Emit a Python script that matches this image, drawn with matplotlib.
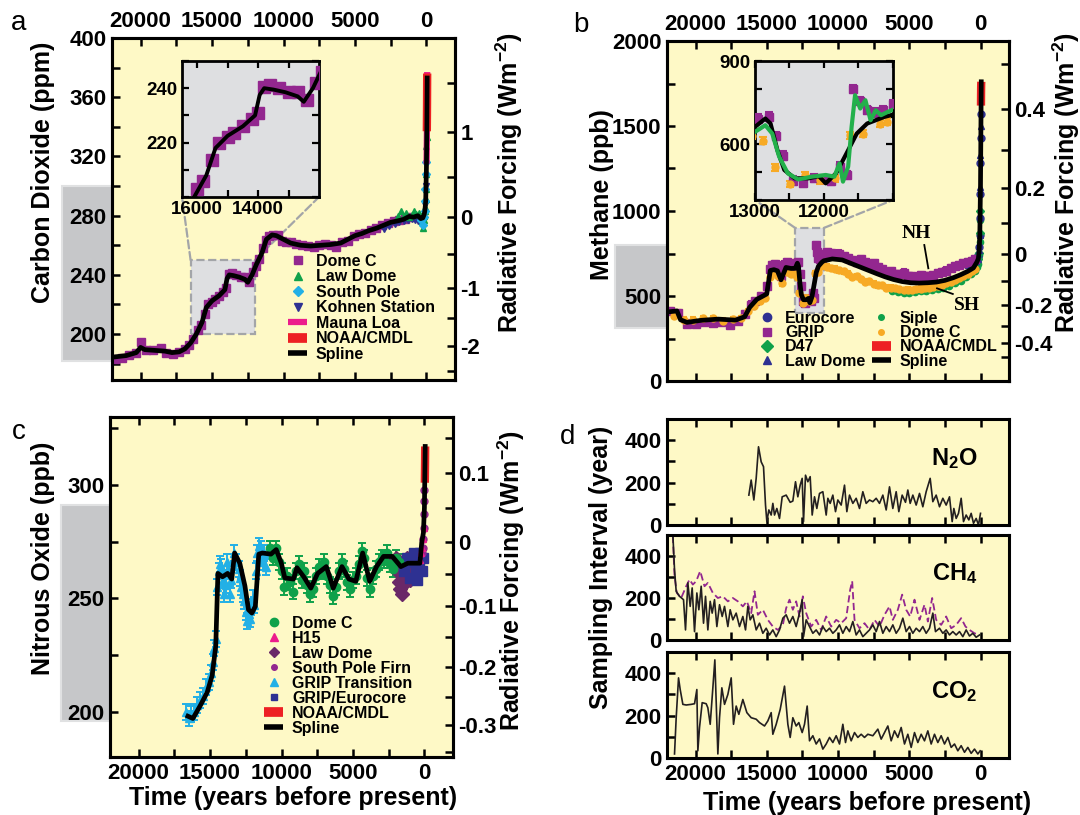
import numpy as np
import matplotlib
matplotlib.use('Agg')
import matplotlib.pyplot as plt
from matplotlib.patches import Rectangle, ConnectionPatch
from matplotlib.lines import Line2D
from matplotlib.transforms import blended_transform_factory

plt.rcParams['font.family'] = ['Liberation Sans', 'DejaVu Sans']
plt.rcParams['font.weight'] = 'bold'
plt.rcParams['mathtext.fontset'] = 'custom'
plt.rcParams['mathtext.rm'] = 'Liberation Sans:bold'
plt.rcParams['mathtext.it'] = 'Liberation Sans:bold'
plt.rcParams['mathtext.bf'] = 'Liberation Sans:bold'
plt.rcParams['axes.unicode_minus'] = False

# ---------------- colours ----------------
YELLOW = '#FEF9C6'
INSET_GRAY = '#DEDFE1'
BAND_GRAY = '#C6C7C9'
DASH_GRAY = '#A3A5A8'
PURPLE = '#93278F'
GREEN = '#0FA14A'
CYAN = '#22B0E6'
NAVY = '#2E3192'
MAGENTA = '#EC1C8C'
RED = '#ED2024'
ORANGE = '#F7AA25'
PLUM = '#6A2868'

# ---------------- panel a : CO2 (years BP, ppm) ----------------
co2_spline_yr = [21900, 21000, 20300, 20000, 19700, 19000, 18300, 17800, 17300, 16900,
                 16500, 16100, 15700, 15400, 15000, 14500, 14100, 13950, 13800, 13500,
                 13100, 12700, 12500, 12200, 11900, 11500, 11200, 10800, 10500, 10100,
                 9500, 8800, 8100, 7400, 6700, 6000, 5500, 5000, 4500, 4000,
                 3500, 3000, 2500, 2000, 1600, 1200, 900, 600, 400, 250,
                 150, 100, 50, 0, -30, -54]
co2_spline = [184.5, 185.5, 187.5, 191, 189.5, 189, 188.5, 187.5, 188, 190,
              194, 200, 208, 218, 222.5, 226, 230, 237.5, 240, 239.5,
              238.5, 237, 235, 240, 247, 255, 264, 267, 266.5, 264.5,
              261.5, 260, 259.5, 260, 260.5, 261.5, 264, 266.5, 268, 270,
              271.5, 273.5, 275.5, 276.5, 277.5, 279.5, 279, 280, 278, 278.5,
              281, 284, 290, 312, 338, 373]

domec_co2_yr = [21800, 21300, 20800, 20300, 20000, 19600, 19100, 18600, 18200, 17700,
                17300, 16900, 16600, 16300, 16000, 15800, 15500, 15300, 15000, 14800,
                14500, 14200, 14000, 13800, 13600, 13300, 13000, 12700, 12400, 12100,
                11900, 11700, 11400, 11200, 11000, 10700, 10400, 10100, 9800, 9500,
                9100, 8700, 8300, 7900, 7500, 7100, 6700, 6300, 5900, 5500,
                5100, 4700, 4300, 3900, 3500, 3100, 2700, 2300, 1900, 1500,
                1100]
domec_co2 = [183.5, 184, 186, 187, 194.5, 189, 189.5, 190.5, 187.5, 186.5,
             188, 190, 192.5, 197, 203, 206, 213.5, 220, 222, 223.5,
             226, 228.5, 231, 240.5, 241, 240, 238.5, 238.5, 235.5, 242,
             246, 251, 258, 263.5, 266.5, 267, 267, 263, 262, 262.5,
             261, 260, 259.5, 259, 260, 261, 260, 258.5, 262.5, 263,
             266, 267.5, 268.5, 270.5, 271.5, 273.5, 275, 276.5, 277, 277.5,
             279]

lawdome_co2_yr = [2000, 1800, 1600, 1400, 1200, 1000, 850, 700, 550, 400, 300,
                  250, 200, 150, 110, 80, 60, 40, 25, 10, -5, -20]
lawdome_co2 = [279.5, 283, 280, 282, 279, 280.5, 283, 281, 282, 280, 276,
               272, 277, 280, 283, 286, 291, 298, 308, 318, 327, 333]

southpole_co2_yr = [350, 250, 180, 120, 90, 65, 45, 30]
southpole_co2 = [277, 274, 279, 283, 290, 298, 308, 316]

kohnen_co2_yr = [3000, 2600, 2200, 1900, 1600, 1300, 1000, 800, 600, 450, 300, 200, 130, 80, 40]
kohnen_co2 = [271, 273, 274.5, 276, 276.5, 277, 277.5, 277, 276.5, 275.5, 275, 277, 281, 287, 300]

maunaloa_yr = [-8, -18, -28, -38, -48, -54]
maunaloa_co2 = [315, 321, 331, 343, 361, 377]

noaa_co2_yr = [-29, -34, -39, -44, -49, -54]
noaa_co2 = [337, 343, 349, 356, 366, 376]

# ---------------- panel b : CH4 (years BP, ppb) ----------------
ch4_spline_yr = [22000, 21300, 21050, 20600, 19600, 18400, 17200, 16550, 16200, 15700,
                 15000, 14750, 14500, 14250, 14000, 13650, 13300, 13000, 12850, 12775,
                 12675, 12575, 12425, 12225, 12075, 11975, 11825, 11675, 11525, 11375,
                 11125, 11000, 10400, 9700, 9100, 8500, 7900, 7300, 6700, 6100,
                 5500, 4900, 4300, 3700, 3100, 2500, 1900, 1400, 900, 500,
                 250, 150, 100, 50, 0, -25, -54]
ch4_spline = [406, 412, 360, 345, 357, 364, 358, 378, 433, 480,
              512, 650, 655, 648, 595, 668, 662, 663, 693, 675,
              579, 508, 478, 478, 486, 460, 496, 567, 639, 675,
              699, 707, 718, 712, 692, 672, 652, 632, 613, 597,
              585, 578, 576, 578, 582, 592, 608, 625, 645, 665,
              700, 720, 760, 850, 1150, 1450, 1760]

# second (green) spline shown only in the inset
ch4_green_yr = [13000, 12850, 12750, 12650, 12525, 12375, 12175, 11975, 11850, 11775,
                11725, 11650, 11600, 11550, 11475, 11400, 11325, 11250, 11175, 11075, 11000]
ch4_green = [645, 669, 639, 556, 496, 474, 484, 490, 484, 532,
             466, 520, 663, 777, 729, 759, 687, 723, 705, 717, 725]

grip_ch4_yr = [21800, 21200, 20600, 20000, 19400, 18800, 18200, 17600, 17000, 16500,
               16100, 15800, 15400, 15000, 14800, 14600, 14400, 14200, 14000, 13800,
               13600, 13400, 13200, 12950, 12800, 12700, 12600, 12450, 12300, 12150,
               12000, 11900, 11770, 11670, 11575, 11480, 11380, 11260, 11140, 11000,
               10800, 10500, 10200, 9900, 9600, 9300, 9000, 8700, 8400, 8100,
               7800, 7500, 7200, 6900, 6600, 6300, 6000, 5700, 5400, 5100,
               4800, 4500, 4200, 3900, 3600, 3300, 3000, 2700, 2400, 2100,
               1800, 1500, 1200, 900, 600, 400]
grip_ch4 = [412, 400, 338, 335, 350, 342, 345, 330, 355, 395,
            450, 468, 500, 560, 660, 680, 690, 655, 615, 685,
            700, 690, 640, 693, 700, 630, 560, 470, 460, 480,
            475, 470, 520, 490, 800, 757, 724, 715, 724, 745,
            760, 755, 745, 750, 735, 725, 712, 700, 718, 698,
            682, 695, 668, 660, 642, 648, 628, 630, 638, 618,
            620, 612, 624, 616, 620, 626, 636, 642, 650, 662,
            674, 682, 692, 700, 708, 716]

domec_ch4_yr = [21500, 20800, 20200, 19500, 18800, 18100, 17400, 16800, 16300, 15900,
                15500, 15100, 14800, 14500, 14200, 13900, 13600, 13300, 13050, 12880,
                12710, 12490, 12280, 12060, 11840, 11620, 11430, 11190, 11080, 10800,
                10500, 10200, 9900, 9600, 9300, 9000, 8700, 8400, 8100, 7800,
                7500, 7200, 6900, 6600, 6300, 6000, 5700, 5400, 5100, 4800,
                4500, 4200, 3900, 3600, 3300, 3000, 2700, 2400, 2100, 1800,
                1500, 1200, 900, 600, 400]
domec_ch4 = [385, 360, 360, 370, 368, 355, 362, 370, 410, 440,
             470, 490, 610, 640, 620, 575, 640, 630, 630, 613,
             517, 457, 490, 471, 478, 633, 639, 675, 682, 672,
             665, 660, 652, 645, 632, 612, 618, 600, 585, 588,
             572, 562, 562, 550, 548, 545, 540, 535, 538, 536,
             540, 544, 547, 550, 554, 560, 566, 574, 584, 596,
             606, 618, 632, 648, 660]

siple_ch4_yr = [6200, 5800, 5400, 5000, 4600, 4200, 3800, 3400, 3000, 2600, 2200,
                1800, 1400, 1000, 700, 400, 250, 150, 100, 60, 30]
siple_ch4 = [530, 522, 518, 520, 524, 528, 532, 536, 542, 550, 560,
             574, 590, 610, 630, 650, 668, 690, 740, 820, 950]

eurocore_ch4_yr = [1000, 800, 600, 400, 300, 200, 150, 100, 70, 50, 30, 15, 0, -10]
eurocore_ch4 = [690, 696, 702, 708, 712, 722, 740, 790, 860, 960, 1100, 1280, 1430, 1570]

d47_ch4_yr = [400, 300, 200, 120, 70, 35]
d47_ch4 = [692, 702, 716, 755, 870, 1000]

lawdome_ch4_yr = [900, 700, 500, 300, 200, 120, 70, 45, 25, 5, -15]
lawdome_ch4 = [682, 690, 698, 706, 718, 770, 860, 970, 1140, 1330, 1500]

noaa_ch4_yr = [-33, -38, -43, -48, -54]
noaa_ch4 = [1620, 1680, 1720, 1745, 1760]

# ---------------- panel c : N2O (years BP, ppb) ----------------
n2o_spline_yr = [16550, 16200, 15700, 15200, 14850, 14600, 14450, 14130, 13770, 13480,
                 13280, 12920, 12560, 12310, 12070, 11830, 11590, 11340, 10740, 10370,
                 10010, 9770, 9160, 8920, 8440, 7950, 7470, 6860, 6380, 5770,
                 5280, 4800, 4320, 3830, 3350, 2860, 2250, 1650, 1160, 600,
                 315, 190, 70, 0, -30, -54]
n2o_spline = [198, 197, 202.5, 208.5, 216, 229, 261, 259.5, 261, 258.5,
              270, 265.5, 255.5, 245, 243.5, 246.5, 269.5, 270, 269.5, 271.5,
              265.5, 259, 258.5, 263.5, 259.5, 254.5, 261, 264, 254.5, 264,
              258.5, 257.5, 270, 257.5, 264, 268.5, 268.5, 264, 265.5, 265.5,
              265.5, 274.5, 279, 290, 305, 317]

griptrans_n2o_yr = [16700, 16500, 16300, 16100, 15900, 15700, 15500, 15300, 15100, 14950,
                    14800, 14700, 14600, 14500, 14400, 14300, 14200, 14100, 14000, 13900,
                    13800, 13700, 13600, 13500, 13400, 13300, 13150, 13000, 12900, 12800,
                    12700, 12600, 12500, 12400, 12300, 12200, 12100, 12000, 11900, 11800,
                    11700, 11600, 11500, 11400, 11300, 11200, 11100]
griptrans_n2o = [200, 197, 199, 200, 203, 205, 207, 211, 213, 217,
                 222, 228, 232, 255, 262, 265, 264, 258, 252, 256,
                 266, 262, 252, 258, 266, 270, 266, 263, 259, 255,
                 252, 249, 244, 240, 243, 241, 246, 250, 247, 262,
                 270, 273, 268, 272, 266, 270, 264]

domec_n2o_yr = [10800, 10600, 10400, 10200, 10000, 9800, 9600, 9400, 9200, 9000,
                8800, 8600, 8400, 8200, 8000, 7800, 7600, 7400, 7200, 7000,
                6800, 6600, 6400, 6200, 6000, 5800, 5600, 5400, 5200, 5000,
                4800, 4600, 4400, 4200, 4000, 3800, 3600, 3400, 3200, 3000,
                2800, 2600, 2400, 2200, 2000, 1800]
domec_n2o = [272, 268, 272, 266, 262, 255, 260, 257, 253, 262,
             265, 258, 262, 256, 252, 254, 260, 264, 262, 266,
             260, 256, 251, 255, 262, 266, 263, 257, 254, 258,
             260, 265, 271, 268, 259, 254, 260, 263, 266, 268,
             267, 270, 265, 263, 268, 266]

lawdome_n2o_yr = [2200, 2000, 1900, 1800, 1700, 1600, 1500, 1400, 1300, 1200, 1100, 1000]
lawdome_n2o = [266, 268, 262, 257, 254, 252, 256, 260, 263, 268, 262, 258]

eurocore_n2o_yr = [1400, 1200, 1000, 850, 700, 600, 500, 400, 300, 200, 120]
eurocore_n2o = [262, 268, 259, 266, 270, 262, 258, 265, 270, 262, 268]

spfirn_n2o_yr = [150, 110, 80, 60, 40, 20, 5]
spfirn_n2o = [270, 272, 276, 281, 287, 293, 298]

h15_n2o_yr = [280, 220, 160, 100, 50]
h15_n2o = [267, 270, 272, 276, 281]

noaa_n2o_yr = [-29, -35, -40, -45, -50, -54]
noaa_n2o = [301, 304, 307, 310, 314, 317]

# ---------------- panel d : sampling intervals (years BP, years) ----------------
n2o_int_yr = [16256, 16093, 15906, 15742, 15578, 15391, 15227, 15087, 14993, 14853,
              14689, 14572, 14455, 14292, 14105, 13917, 13637, 13356, 13169, 12982,
              12818, 12654, 12514, 12420, 12280, 12116, 11953, 11812, 11648, 11485,
              11297, 11063, 10829, 10712, 10549, 10362, 10175, 10011, 9777, 9543,
              9379, 9192, 8958, 8725, 8491, 8257, 8023, 7789, 7555, 7321,
              7087, 6853, 6619, 6386, 6152, 5918, 5731, 5497, 5263, 5099,
              4935, 4748, 4514, 4280, 4047, 3813, 3532, 3345, 3111, 2877,
              2643, 2409, 2175, 1988, 1871, 1707, 1544, 1357, 1193, 1006,
              819, 655, 491, 304, 140, 0]
n2o_int = [141, 212, 118, 220, 369, 298, 275, 94, 16, 71,
           47, 102, 47, 78, 31, 133, 141, 107, 113, 204,
           133, 188, 220, 16, 235, 204, 228, 47, 133, 78,
           149, 157, 47, 126, 102, 141, 63, 118, 94, 188,
           63, 141, 102, 126, 78, 157, 102, 118, 110, 126,
           102, 141, 71, 180, 78, 157, 63, 141, 107, 165,
           102, 141, 94, 149, 86, 157, 220, 110, 141, 86,
           126, 94, 133, 16, 78, 31, 55, 126, 16, 47,
           24, 55, 8, 31, 0, 55]

ch4_int_yr = [21590, 21473, 21356, 21122, 20841, 20701, 20537, 20373, 20233, 20069,
              19905, 19765, 19601, 19437, 19297, 19133, 18969, 18829, 18665, 18501,
              18314, 18127, 17963, 17729, 17566, 17378, 17145, 16911, 16677, 16490,
              16326, 16162, 15975, 15741, 15508, 15274, 15040, 14806, 14572, 14338,
              14104, 13870, 13637, 13403, 13169, 12935, 12701, 12514, 12420, 12233,
              11999, 11765, 11531, 11297, 11063, 10829, 10595, 10362, 10128, 9894,
              9660, 9426, 9192, 8958, 8725, 8491, 8257, 8023, 7789, 7555,
              7321, 7087, 6853, 6619, 6386, 6152, 5918, 5684, 5450, 5216,
              4982, 4748, 4514, 4280, 4047, 3813, 3579, 3345, 3158, 2877,
              2643, 2409, 2175, 1941, 1707, 1474, 1240, 1006, 772, 538,
              304, 70]
ch4_int = [504, 336, 232, 208, 192, 48, 272, 160, 248, 40,
           224, 144, 256, 80, 208, 48, 184, 128, 192, 64,
           168, 112, 160, 64, 144, 96, 128, 64, 112, 48,
           160, 96, 120, 48, 80, 32, 56, 24, 48, 16,
           48, 104, 120, 80, 112, 64, 128, 192, 16, 96,
           64, 32, 48, 24, 64, 40, 56, 32, 48, 72,
           32, 64, 40, 88, 24, 48, 16, 32, 48, 72,
           40, 88, 32, 64, 40, 72, 32, 56, 104, 40,
           64, 32, 56, 40, 64, 32, 56, 128, 40, 56,
           32, 48, 24, 40, 24, 40, 16, 48, 19, 32,
           13, 24]

ch4_int2_yr = [21590, 21473, 21309, 21005, 20654, 20420, 20186, 19952, 19671, 19367,
               19133, 18782, 18431, 18080, 17729, 17378, 17027, 16677, 16396, 16092,
               15858, 15624, 15274, 14923, 14572, 14221, 13870, 13637, 13403, 13169,
               12935, 12701, 12467, 12233, 11882, 11531, 11180, 10829, 10478, 10128,
               9777, 9426, 9145, 9005, 8841, 8491, 8140, 7789, 7438, 7087,
               6736, 6386, 6152, 5801, 5497, 5216, 4935, 4631, 4280, 3930,
               3696, 3392, 3111, 2760, 2409, 2058, 1707, 1357, 1053, 772,
               421, 70]
ch4_int2 = [496, 304, 224, 200, 256, 288, 264, 280, 328, 256,
            272, 224, 200, 208, 184, 200, 184, 160, 184, 128,
            232, 120, 144, 96, 64, 48, 72, 152, 192, 144,
            184, 112, 208, 128, 64, 96, 48, 112, 64, 96,
            80, 104, 240, 280, 96, 56, 80, 48, 96, 64,
            120, 160, 96, 144, 216, 144, 112, 192, 96, 168,
            88, 200, 96, 72, 112, 56, 72, 104, 64, 48,
            32, 24]

co2_int_yr = [21472, 21355, 21191, 21074, 20887, 20653, 20302, 20068, 19905, 19835,
              19718, 19531, 19250, 19133, 18969, 18782, 18642, 18431, 18314, 18151,
              17963, 17729, 17495, 17332, 17145, 16958, 16677, 16396, 16092, 15741,
              15508, 15157, 14923, 14689, 14572, 14338, 14057, 13753, 13519, 13356,
              13169, 12935, 12748, 12514, 12350, 12163, 11999, 11765, 11531, 11297,
              11063, 10829, 10595, 10362, 10128, 9894, 9660, 9473, 9310, 9075,
              8841, 8608, 8374, 8140, 7906, 7555, 7204, 6970, 6736, 6502,
              6269, 6035, 5801, 5567, 5333, 5099, 4865, 4631, 4397, 4163,
              3930, 3696, 3462, 3228, 2994, 2760, 2526, 2292, 2058, 1824,
              1590, 1357, 1123, 889, 655, 421, 187, 23]
co2_int = [19, 190, 378, 323, 253, 250, 253, 256, 323, 34,
           144, 261, 256, 237, 159, 331, 463, 19, 190, 331,
           253, 300, 378, 159, 245, 206, 276, 214, 190, 183,
           167, 151, 175, 214, 112, 159, 229, 339, 159, 97,
           190, 151, 167, 120, 159, 245, 81, 105, 66, 90,
           42, 66, 97, 73, 105, 66, 159, 73, 128, 81,
           120, 97, 112, 97, 112, 105, 136, 89, 120, 151,
           81, 128, 97, 144, 66, 112, 50, 120, 73, 112,
           81, 128, 66, 112, 73, 105, 66, 97, 50, 66,
           34, 58, 27, 50, 22, 42, 19, 34]

# ---------------- axis scales ----------------
YEAR_LIM = (22000, -2000)
year_ticks = np.arange(0, 20001, 2500)
year_labels = [f'{v}' if v % 5000 == 0 else '' for v in year_ticks]

CO2_REF, CH4_REF, N2O_REF = 279.0, 749.0, 275.0
TICK_FS = 16


def overlap(m, n):
    return 0.47 * np.log(1 + 2.01e-5 * (m * n) ** 0.75 + 5.31e-15 * m * (m * n) ** 1.52)


def ch4_forcing(m):
    return 0.036 * (np.sqrt(m) - np.sqrt(CH4_REF)) - (overlap(m, 270.0) - overlap(CH4_REF, 270.0))


def n2o_forcing(n):
    return 0.12 * (np.sqrt(n) - np.sqrt(N2O_REF)) - (overlap(750.0, n) - overlap(750.0, N2O_REF))


def invert(func, values, lo, hi):
    grid = np.linspace(lo, hi, 20000)
    return np.interp(values, func(grid), grid)


W, H = 1080, 815
fig = plt.figure(figsize=(W / 100, H / 100), dpi=100)


def px_axes(l, t, r, b):
    return fig.add_axes([l / W, 1 - b / H, (r - l) / W, (b - t) / H])


def style(ax, ylim, yticks, ylabels, size=TICK_FS):
    ax.set_facecolor(YELLOW)
    ax.set_xlim(*YEAR_LIM)
    ax.set_ylim(*ylim)
    ax.set_xticks(year_ticks)
    ax.set_xticklabels(year_labels)
    ax.set_yticks(yticks)
    ax.set_yticklabels(ylabels)
    ax.tick_params(direction='in', length=6, width=1.8, labelsize=size, pad=4,
                   top=True, bottom=True, left=True, right=False)
    for s in ax.spines.values():
        s.set_linewidth(2.2)


def forcing_axis(ax, pos, labels):
    ax2 = ax.twinx()
    ax2.set_ylim(ax.get_ylim())
    ax2.set_yticks(pos)
    ax2.set_yticklabels(labels)
    ax2.tick_params(direction='in', length=6, width=1.8, labelsize=TICK_FS, pad=4)
    for s in ax2.spines.values():
        s.set_linewidth(2.2)
    return ax2


def gray_band(ax, frac, lo, hi):
    tr = blended_transform_factory(ax.transAxes, ax.transData)
    ax.add_patch(Rectangle((-frac, lo), frac, hi - lo, transform=tr, clip_on=False,
                           facecolor=BAND_GRAY, edgecolor='#E0E1E2', lw=1.5, zorder=0))


def inset(ax, box, xlim, ylim, xt, xl, yt, yl):
    ins = px_axes(*box)
    ins.set_facecolor(INSET_GRAY)
    ins.set_xlim(*xlim)
    ins.set_ylim(*ylim)
    ins.set_xticks(xt)
    ins.set_xticklabels(xl)
    ins.set_yticks(yt)
    ins.set_yticklabels(yl)
    ins.tick_params(direction='in', length=5, width=1.6, labelsize=13.5, pad=3,
                    top=True, right=True)
    for s in ins.spines.values():
        s.set_linewidth(2.0)
    ax.add_patch(Rectangle((xlim[0], ylim[0]), xlim[1] - xlim[0], ylim[1] - ylim[0],
                           facecolor=INSET_GRAY, edgecolor=DASH_GRAY, ls='--', lw=1.6, zorder=1))
    for xa, xb in [(xlim[0], 0), (xlim[1], 1)]:
        con = ConnectionPatch(xyA=(xa, ylim[1]), coordsA='data', axesA=ax,
                              xyB=(xb, 0), coordsB='axes fraction', axesB=ins,
                              color=DASH_GRAY, ls='--', lw=1.6, zorder=1.5)
        ax.add_artist(con)
    return ins


def bar(color, lw):
    return Line2D([], [], color=color, lw=lw, solid_capstyle='butt')


def mark(m, color, ms):
    return Line2D([], [], ls='none', marker=m, color=color, ms=ms)


def legend(ax, handles, labels, x, y, **kw):
    opts = dict(loc='upper left', bbox_to_anchor=(x / W, 1 - y / H),
                bbox_transform=fig.transFigure, frameon=False, borderpad=0,
                borderaxespad=0, handlelength=1.2, handletextpad=0.55,
                numpoints=1, prop={'size': 11.5, 'weight': 'bold'})
    opts.update(kw)
    leg = ax.legend(handles, labels, **opts)
    leg.set_zorder(10)
    return leg


# ======================= panel a =======================
ax_a = px_axes(112, 38, 455, 380)
style(ax_a, (169, 400), np.arange(180, 401, 20),
      [f'{v}' if v % 40 == 0 and v >= 200 else '' for v in range(180, 401, 20)])
ax_a.tick_params(axis='x', labeltop=True, labelbottom=False)
gray_band(ax_a, 0.146, 182, 300)

ax_a.plot(domec_co2_yr, domec_co2, 's', color=PURPLE, ms=5.5, zorder=3)
ax_a.plot(kohnen_co2_yr, kohnen_co2, 'v', color=NAVY, ms=5, zorder=3)
ax_a.plot(lawdome_co2_yr, lawdome_co2, '^', color=GREEN, ms=5, zorder=3)
ax_a.plot(southpole_co2_yr, southpole_co2, 'D', color=CYAN, ms=4, zorder=3)
ax_a.plot(maunaloa_yr, maunaloa_co2, color=MAGENTA, lw=4.5, solid_capstyle='butt', zorder=4)
ax_a.plot(noaa_co2_yr, noaa_co2, color=RED, lw=6, solid_capstyle='butt', zorder=4)
ax_a.plot(co2_spline_yr, co2_spline, color='black', lw=3.4, zorder=5)

f_a = np.arange(-2.5, 1.51, 0.5)
forcing_axis(ax_a, CO2_REF * np.exp(f_a / 5.35),
             [f'{int(f)}' if f == int(f) else '' for f in f_a])

legend(ax_a,
       [mark('s', PURPLE, 6), mark('^', GREEN, 6), mark('D', CYAN, 5), mark('v', NAVY, 6),
        bar(MAGENTA, 4.5), bar(RED, 7), bar('black', 4)],
       ['Dome C', 'Law Dome', 'South Pole', 'Kohnen Station', 'Mauna Loa', 'NOAA/CMDL', 'Spline'],
       288, 254, labelspacing=0.03)

ins_a = inset(ax_a, (182, 61, 319, 197), (16500, 12000), (200, 250),
              [16000, 15000, 14000, 13000], ['16000', '', '14000', ''],
              np.arange(200, 251, 10), ['', '', '220', '', '240', ''])
ins_a.plot(domec_co2_yr, domec_co2, 's', color=PURPLE, ms=8, zorder=3)
ins_a.plot(co2_spline_yr, co2_spline, color='black', lw=2.8, zorder=5)

# ======================= panel b =======================
ax_b = px_axes(667, 41, 1009, 381)
style(ax_b, (0, 2000), np.arange(0, 2001, 250),
      [f'{v}' if v % 500 == 0 else '' for v in range(0, 2001, 250)])
ax_b.tick_params(axis='x', labeltop=True, labelbottom=False)
gray_band(ax_b, 0.152, 310, 800)

ax_b.errorbar(grip_ch4_yr, grip_ch4, yerr=18, fmt='s', color=PURPLE, ms=5.5,
              elinewidth=1.5, capsize=2.5, capthick=1.5, zorder=3)
ax_b.errorbar(domec_ch4_yr, domec_ch4, yerr=14, fmt='o', color=ORANGE, ms=5,
              elinewidth=1.5, capsize=2.5, capthick=1.5, zorder=3)
ax_b.plot(siple_ch4_yr, siple_ch4, 'o', color=GREEN, ms=4.5, zorder=3)
ax_b.plot(eurocore_ch4_yr, eurocore_ch4, 'o', color=NAVY, ms=5, zorder=3)
ax_b.plot(d47_ch4_yr, d47_ch4, 'D', color=GREEN, ms=4.5, zorder=3)
ax_b.plot(lawdome_ch4_yr, lawdome_ch4, '^', color=NAVY, ms=5, zorder=3)
ax_b.plot(noaa_ch4_yr, noaa_ch4, color=RED, lw=6, solid_capstyle='butt', zorder=4)
ax_b.plot(ch4_spline_yr, ch4_spline, color='black', lw=3.4, zorder=5)

ax_b.text(4535, 870, 'NH', family='Liberation Serif', weight='bold', fontsize=14,
          ha='center', va='center', zorder=6)
ax_b.plot([3944, 3662], [800, 663], color='black', lw=1.3, zorder=6)
ax_b.text(937, 447, 'SH', family='Liberation Serif', weight='bold', fontsize=14,
          ha='center', va='center', zorder=6)
ax_b.plot([3049, 1944], [545, 512], color='black', lw=1.3, zorder=6)

f_b = np.round(np.arange(-0.5, 0.51, 0.1), 1)
forcing_axis(ax_b, invert(ch4_forcing, f_b, 50, 2500),
             [('0' if f == 0 else f'{f:.1f}') if round(f * 10) % 2 == 0 and abs(f) < 0.5 else ''
              for f in f_b])

legend(ax_b,
       [mark('o', NAVY, 6), mark('s', PURPLE, 6), mark('D', GREEN, 6), mark('^', NAVY, 6),
        mark('o', GREEN, 4), mark('o', ORANGE, 4), bar(RED, 7), bar('black', 4)],
       ['Eurocore', 'GRIP', 'D47', 'Law Dome', 'Siple', 'Dome C', 'NOAA/CMDL', 'Spline'],
       757, 311, ncol=2, columnspacing=0.4, labelspacing=-0.05)

ins_b = inset(ax_b, (755, 61, 893, 200), (13000, 11000), (400, 900),
              [13000, 12500, 12000, 11500, 11000], ['13000', '', '12000', '', ''],
              np.arange(400, 901, 100), ['', '', '600', '', '', '900'])
ins_b.errorbar(grip_ch4_yr, grip_ch4, yerr=15, fmt='s', color=PURPLE, ms=6,
               elinewidth=1.5, capsize=3, capthick=1.5, zorder=3)
ins_b.errorbar(domec_ch4_yr, domec_ch4, yerr=12, fmt='o', color=ORANGE, ms=5,
               elinewidth=1.5, capsize=3, capthick=1.5, zorder=3)
ins_b.plot(ch4_spline_yr, ch4_spline, color='black', lw=3, zorder=5)
ins_b.plot(ch4_green_yr, ch4_green, color='#22B04B', lw=3, zorder=6)

# ======================= panel c =======================
ax_c = px_axes(110, 417, 453, 757)
style(ax_c, (180, 330), np.arange(200, 326, 25),
      [f'{v}' if v % 50 == 0 else '' for v in range(200, 326, 25)])
gray_band(ax_c, 0.143, 196, 291)

ax_c.errorbar(griptrans_n2o_yr, griptrans_n2o, yerr=3.5, fmt='^', color=CYAN, ms=6,
              elinewidth=1.4, capsize=3, capthick=1.4, zorder=3)
ax_c.errorbar(domec_n2o_yr, domec_n2o, yerr=3.5, fmt='o', color=GREEN, ms=6,
              elinewidth=1.4, capsize=3, capthick=1.4, zorder=3)
ax_c.plot(lawdome_n2o_yr, lawdome_n2o, 'D', color=PLUM, ms=7, zorder=3)
ax_c.plot(eurocore_n2o_yr, eurocore_n2o, 's', color=NAVY, ms=6.5, zorder=3)
ax_c.plot(spfirn_n2o_yr, spfirn_n2o, 'o', color=PURPLE, ms=5, zorder=3)
ax_c.plot(h15_n2o_yr, h15_n2o, '^', color=MAGENTA, ms=5, zorder=3)
ax_c.plot(noaa_n2o_yr, noaa_n2o, color=RED, lw=6, solid_capstyle='butt', zorder=4)
ax_c.plot(n2o_spline_yr, n2o_spline, color='black', lw=3.4, zorder=5)

f_c = np.round(np.arange(-0.35, 0.151, 0.05), 2)
forcing_axis(ax_c, invert(n2o_forcing, f_c, 100, 400),
             [('0' if f == 0 else f'{f:.1f}') if round(f * 100) % 10 == 0 else '' for f in f_c])

legend(ax_c,
       [mark('o', GREEN, 6), mark('^', MAGENTA, 6), mark('D', PLUM, 5), mark('o', PURPLE, 4),
        mark('^', CYAN, 6), mark('s', NAVY, 5), bar(RED, 7), bar('black', 4)],
       ['Dome C', 'H15', 'Law Dome', 'South Pole Firn', 'GRIP Transition', 'GRIP/Eurocore',
        'NOAA/CMDL', 'Spline'],
       264, 616, labelspacing=0.0)

# ======================= panel d =======================
d_boxes = [(667, 419, 1009, 525), (667, 535, 1009, 640), (667, 652, 1009, 758)]
d_names = [r'N$_2$O', r'CH$_4$', r'CO$_2$']
d_axes = []
for i, (box, name) in enumerate(zip(d_boxes, d_names)):
    axd = px_axes(*box)
    style(axd, (0, 500), np.arange(0, 401, 100), ['0', '', '200', '', '400'])
    if i < 2:
        axd.tick_params(axis='x', labelbottom=False)
    axd.text(0.84, 0.63, name, transform=axd.transAxes, fontsize=17, ha='center', va='center')
    d_axes.append(axd)

d_axes[0].plot(n2o_int_yr, n2o_int, color='#231F20', lw=1.2)
d_axes[1].plot(ch4_int2_yr, ch4_int2, color=PURPLE, lw=1.3, dashes=(4, 2))
d_axes[1].plot(ch4_int_yr, ch4_int, color='#231F20', lw=1.2)
d_axes[2].plot(co2_int_yr, co2_int, color='#231F20', lw=1.2)

# ======================= labels =======================
lab = dict(fontsize=18, ha='center', va='center')
fig.text(43 / W, 1 - 172 / H, 'Carbon Dioxide (ppm)', rotation=90, **lab)
fig.text(509 / W, 1 - 183 / H, r'Radiative Forcing (Wm$^{-2}$)', rotation=90, **lab)
fig.text(602 / W, 1 - 195 / H, 'Methane (ppb)', rotation=90, **lab)
fig.text(1066 / W, 1 - 183 / H, r'Radiative Forcing (Wm$^{-2}$)', rotation=90, **lab)
fig.text(43 / W, 1 - 558 / H, 'Nitrous Oxide (ppb)', rotation=90, **lab)
fig.text(511 / W, 1 - 581 / H, r'Radiative Forcing (Wm$^{-2}$)', rotation=90, **lab)
fig.text(601 / W, 1 - 567 / H, 'Sampling Interval (year)', rotation=90, **lab)
fig.text(293 / W, 1 - 798 / H, 'Time (years before present)', **lab)
fig.text(867 / W, 1 - 803 / H, 'Time (years before present)', **lab)

for letter, x, y in [('a', 19, 23), ('b', 581, 25), ('c', 19, 432), ('d', 568, 437)]:
    fig.text(x / W, 1 - y / H, letter, fontsize=20, fontweight='normal', ha='center', va='center')

fig.savefig('out.png', dpi=100)
